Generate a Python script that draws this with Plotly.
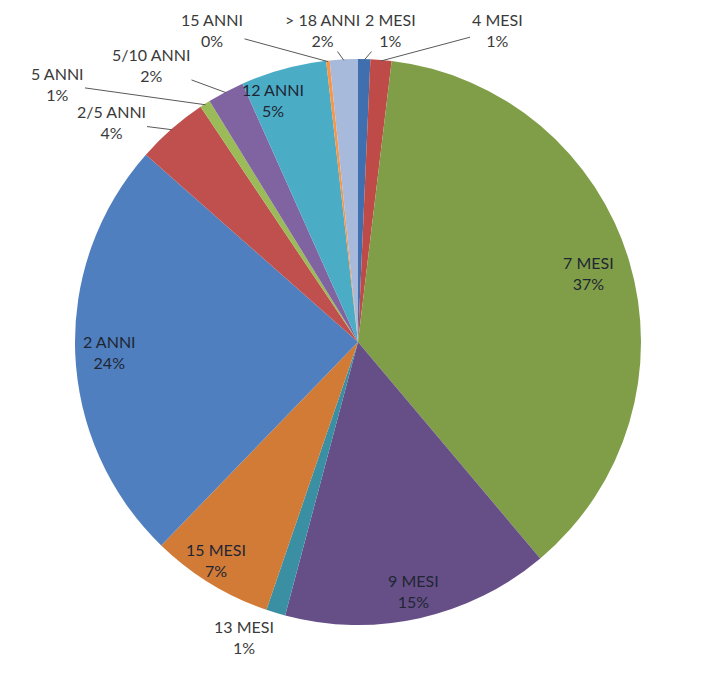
import math
import plotly.graph_objects as go

# ---- data ----
labels = ["2 MESI", "4 MESI", "7 MESI", "9 MESI", "13 MESI", "15 MESI", "2 ANNI",
          "2/5 ANNI", "5 ANNI", "5/10 ANNI", "12 ANNI", "15 ANNI", "> 18 ANNI"]
values = [0.7, 1.2, 37.0, 15.3, 1.1, 7.0, 24.3, 4.1, 0.6, 2.1, 4.9, 0.2, 1.6]

# ---- style ----
colors = ["#3F6FAE", "#BE4B48", "#809E48", "#664E87", "#3A8FA3", "#D17B37", "#4F7FBE",
          "#C0504D", "#9BBB59", "#8064A2", "#4BACC6", "#F79646", "#A8BADB"]

W, H = 716, 684
CX, CY, R = 358, 342, 283

# label placement: ("in", radial factor, angle shift deg) or ("out", text x px, text y px, leader?)
label_place = [
    ("out", 390, 30, True),
    ("out", 497, 30, True),
    ("in", 0.85, 0),
    ("in", 0.90, 0),
    ("out", 244, 637, False),
    ("in", 0.92, 1.5),
    ("in", 0.88, 0),
    ("out", 111, 122, True),
    ("out", 57, 84, True),
    ("out", 151, 65, True),
    ("in", 0.905, -4),
    ("out", 212, 30, True),
    ("out", 322, 30, True),
]

fig = go.Figure(go.Pie(
    labels=labels,
    values=values,
    sort=False,
    direction="clockwise",
    rotation=0,
    marker=dict(colors=colors, line=dict(width=0)),
    textinfo="none",
    hoverinfo="label+percent",
    showlegend=False,
    domain=dict(x=[(CX - R) / W, (CX + R) / W], y=[1 - (CY + R) / H, 1 - (CY - R) / H]),
))

total = sum(values)
annotations = []
cum = 0.0
font_in = dict(family="Lato, 'Open Sans', sans-serif", size=16, color="#1f2633")
font_out = dict(family="Lato, 'Open Sans', sans-serif", size=16, color="#3a3a3a")
for lab, v, place in zip(labels, values, label_place):
    mid = (cum + v / 2) / total * 2 * math.pi
    cum += v
    pct = round(v / total * 100)
    txt = f"{lab}<br>{pct}%"
    if place[0] == "in":
        f, shift = place[1], math.radians(place[2])
        ang = mid + shift
        px = CX + R * f * math.sin(ang)
        py = CY - R * f * math.cos(ang)
        annotations.append(dict(x=px / W, y=1 - py / H, xref="paper", yref="paper",
                                xanchor="center", yanchor="middle",
                                text=txt, showarrow=False, font=font_in, align="center"))
    else:
        tx, ty, leader = place[1], place[2], place[3]
        if leader:
            ex = CX + (R - 1) * math.sin(mid)
            ey = CY - (R - 1) * math.cos(mid)
            annotations.append(dict(x=ex / W, y=1 - ey / H, xref="paper", yref="paper",
                                    ax=tx - ex, ay=ty - ey, text=txt, showarrow=True,
                                    arrowhead=0, arrowwidth=1, arrowcolor="#595959",
                                    font=font_out, align="center", standoff=0))
        else:
            annotations.append(dict(x=tx / W, y=1 - ty / H, xref="paper", yref="paper",
                                    xanchor="center", yanchor="middle",
                                    text=txt, showarrow=False, font=font_out, align="center"))

fig.update_layout(
    width=W, height=H,
    margin=dict(l=0, r=0, t=0, b=0),
    paper_bgcolor="white",
    plot_bgcolor="white",
    annotations=annotations,
)

fig.write_html("out.html")
